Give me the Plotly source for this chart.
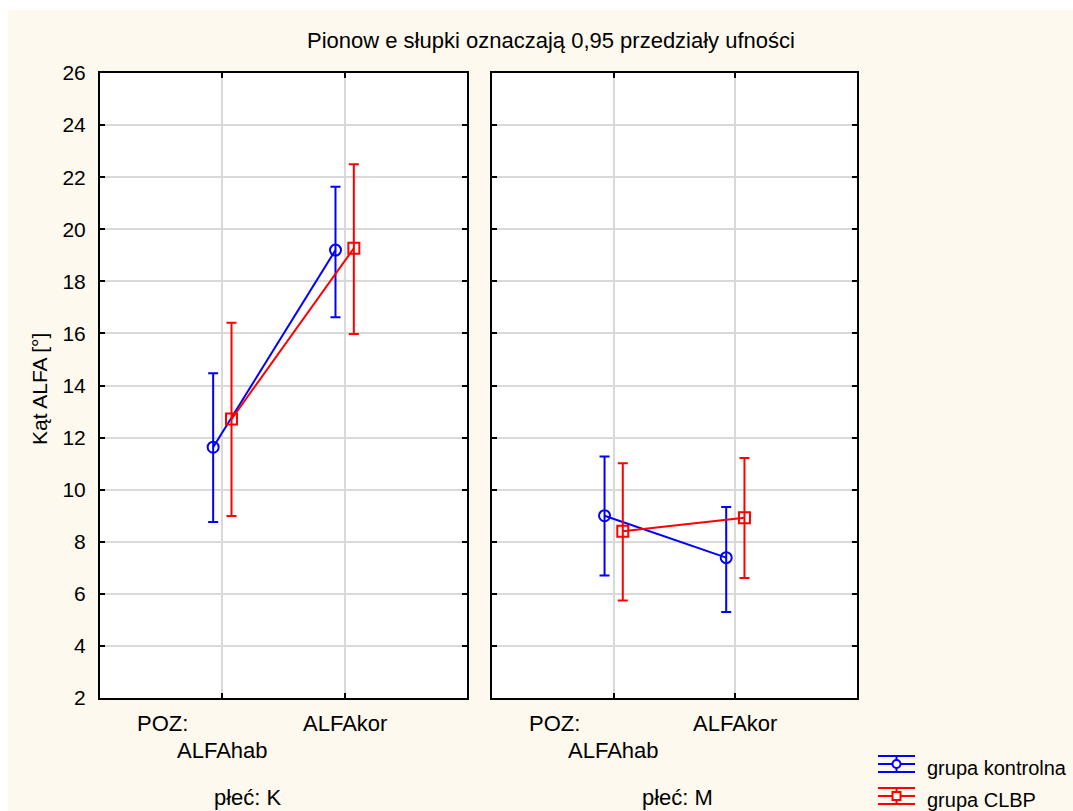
import plotly.graph_objects as go

# ---- data ----
categories = ["ALFAhab", "ALFAkor"]
panels = ["płeć: K", "płeć: M"]
groups = ["grupa kontrolna", "grupa CLBP"]

K_kontrolna_mean = [11.63, 19.20]
K_kontrolna_low = [8.76, 16.62]
K_kontrolna_high = [14.47, 21.63]
K_clbp_mean = [12.71, 19.27]
K_clbp_low = [8.99, 15.98]
K_clbp_high = [16.41, 22.50]

M_kontrolna_mean = [9.00, 7.39]
M_kontrolna_low = [6.70, 5.30]
M_kontrolna_high = [11.27, 9.33]
M_clbp_mean = [8.40, 8.92]
M_clbp_low = [5.74, 6.61]
M_clbp_high = [11.01, 11.22]

y_ticks = list(range(2, 27, 2))

# ---- style ----
FONT = "Liberation Sans, Arial, sans-serif"
BLUE = "#0000ff"
RED = "#ff0000"
CREAM = "#fdf9ee"
GRID = "#d9d9d9"
W, H = 1073, 811
L, R, T, B = 100, 216, 73, 113
PW = W - L - R
PH = H - T - B

def px_x(p):
    return (p - L) / PW

def px_y(p):
    return (H - B - p) / PH

series = {
    ("K", 0): (K_kontrolna_mean, K_kontrolna_low, K_kontrolna_high),
    ("K", 1): (K_clbp_mean, K_clbp_low, K_clbp_high),
    ("M", 0): (M_kontrolna_mean, M_kontrolna_low, M_kontrolna_high),
    ("M", 1): (M_clbp_mean, M_clbp_low, M_clbp_high),
}
colors = [BLUE, RED]
symbols = ["circle-open", "square-open"]
offsets = [-0.075, 0.075]

fig = go.Figure()
for pi, pk in enumerate(["K", "M"]):
    for gi in range(2):
        mean, low, high = series[(pk, gi)]
        xs = [i + offsets[gi] for i in range(len(categories))]
        fig.add_trace(go.Scatter(
            x=xs, y=mean,
            mode="lines+markers",
            name=groups[gi],
            showlegend=False,
            line=dict(color=colors[gi], width=2),
            marker=dict(symbol=symbols[gi], size=11, color=colors[gi],
                        line=dict(color=colors[gi], width=2)),
            error_y=dict(type="data", symmetric=False,
                         array=[h - m for h, m in zip(high, mean)],
                         arrayminus=[m - l for m, l in zip(mean, low)],
                         color=colors[gi], thickness=2, width=5),
            xaxis="x" if pi == 0 else "x2",
            yaxis="y" if pi == 0 else "y2",
        ))

axis_common = dict(
    showline=True, linecolor="black", linewidth=2, mirror="ticks",
    ticks="inside", ticklen=5, tickwidth=1.5, tickcolor="black",
    showgrid=True, gridcolor=GRID, gridwidth=2, zeroline=False,
)
xcommon = dict(axis_common, range=[-1, 2], tickvals=[0, 1], showticklabels=False)
ycommon = dict(axis_common, range=[2, 26], tickvals=y_ticks)

fig.update_layout(
    width=W, height=H, autosize=False,
    margin=dict(l=L, r=R, t=T, b=B, pad=0, autoexpand=False),
    paper_bgcolor=CREAM, plot_bgcolor="white",
    font=dict(family=FONT, size=22, color="black"),
    xaxis=dict(xcommon, domain=[0, 367 / PW], anchor="y"),
    xaxis2=dict(xcommon, domain=[392 / PW, 1], anchor="y2"),
    yaxis=dict(ycommon, anchor="x", ticklabelstandoff=8,
               tickfont=dict(family=FONT, size=21, color="black")),
    yaxis2=dict(ycommon, anchor="x2", showticklabels=False),
    showlegend=False,
)

shapes = [
    dict(type="rect", xref="paper", yref="paper", x0=px_x(0), x1=px_x(W),
         y0=px_y(10), y1=px_y(0), fillcolor="white", line=dict(width=0), layer="below"),
    dict(type="rect", xref="paper", yref="paper", x0=px_x(0), x1=px_x(8),
         y0=px_y(H), y1=px_y(0), fillcolor="white", line=dict(width=0), layer="below"),
]

# legend glyphs (line + whisker caps + marker), drawn as decoration
leg_x0, leg_x1 = 878, 915
leg_xc = (leg_x0 + leg_x1) / 2
leg_centers = [764, 796]
cap = 8
ann = []
for gi in range(2):
    yc = leg_centers[gi]
    c = colors[gi]
    for dy in (-cap, 0, cap):
        shapes.append(dict(type="line", xref="paper", yref="paper",
                           x0=px_x(leg_x0), x1=px_x(leg_x1),
                           y0=px_y(yc + dy), y1=px_y(yc + dy),
                           line=dict(color=c, width=2)))
    shapes.append(dict(type="line", xref="paper", yref="paper",
                       x0=px_x(leg_xc), x1=px_x(leg_xc),
                       y0=px_y(yc - cap), y1=px_y(yc + cap),
                       line=dict(color=c, width=2)))
    shapes.append(dict(type="circle" if gi == 0 else "rect", xref="paper", yref="paper",
                       x0=px_x(leg_xc - 4), x1=px_x(leg_xc + 4),
                       y0=px_y(yc - 4), y1=px_y(yc + 4),
                       fillcolor=CREAM, line=dict(color=c, width=2)))
    ann.append(dict(text=groups[gi], xref="paper", yref="paper",
                    x=px_x(925), y=px_y(yc + 4), xanchor="left", yanchor="middle",
                    showarrow=False, font=dict(size=20)))
fig.update_layout(shapes=shapes)

ann.append(dict(text="Pionow e słupki oznaczają 0,95 przedziały ufności",
                xref="paper", yref="paper", x=px_x(551), y=px_y(40),
                xanchor="center", yanchor="middle", showarrow=False,
                font=dict(size=22)))
ann.append(dict(text="Kąt ALFA [°]", xref="paper", yref="paper",
                x=px_x(39), y=px_y(389), textangle=-90,
                xanchor="center", yanchor="middle", showarrow=False,
                font=dict(size=21)))
for pi, xa in enumerate(["x", "x2"]):
    ann.append(dict(text="POZ:", xref=xa, yref="paper", x=-0.49, y=px_y(723),
                    xanchor="center", yanchor="middle", showarrow=False))
    ann.append(dict(text=categories[0], xref=xa, yref="paper", x=0, y=px_y(750),
                    xanchor="center", yanchor="middle", showarrow=False))
    ann.append(dict(text=categories[1], xref=xa, yref="paper", x=1, y=px_y(723),
                    xanchor="center", yanchor="middle", showarrow=False))
ann.append(dict(text=panels[0], xref="paper", yref="paper", x=px_x(248), y=px_y(797),
                xanchor="center", yanchor="middle", showarrow=False))
ann.append(dict(text=panels[1], xref="paper", yref="paper", x=px_x(677), y=px_y(797),
                xanchor="center", yanchor="middle", showarrow=False))
fig.update_layout(annotations=ann)

fig.write_html("out.html")
